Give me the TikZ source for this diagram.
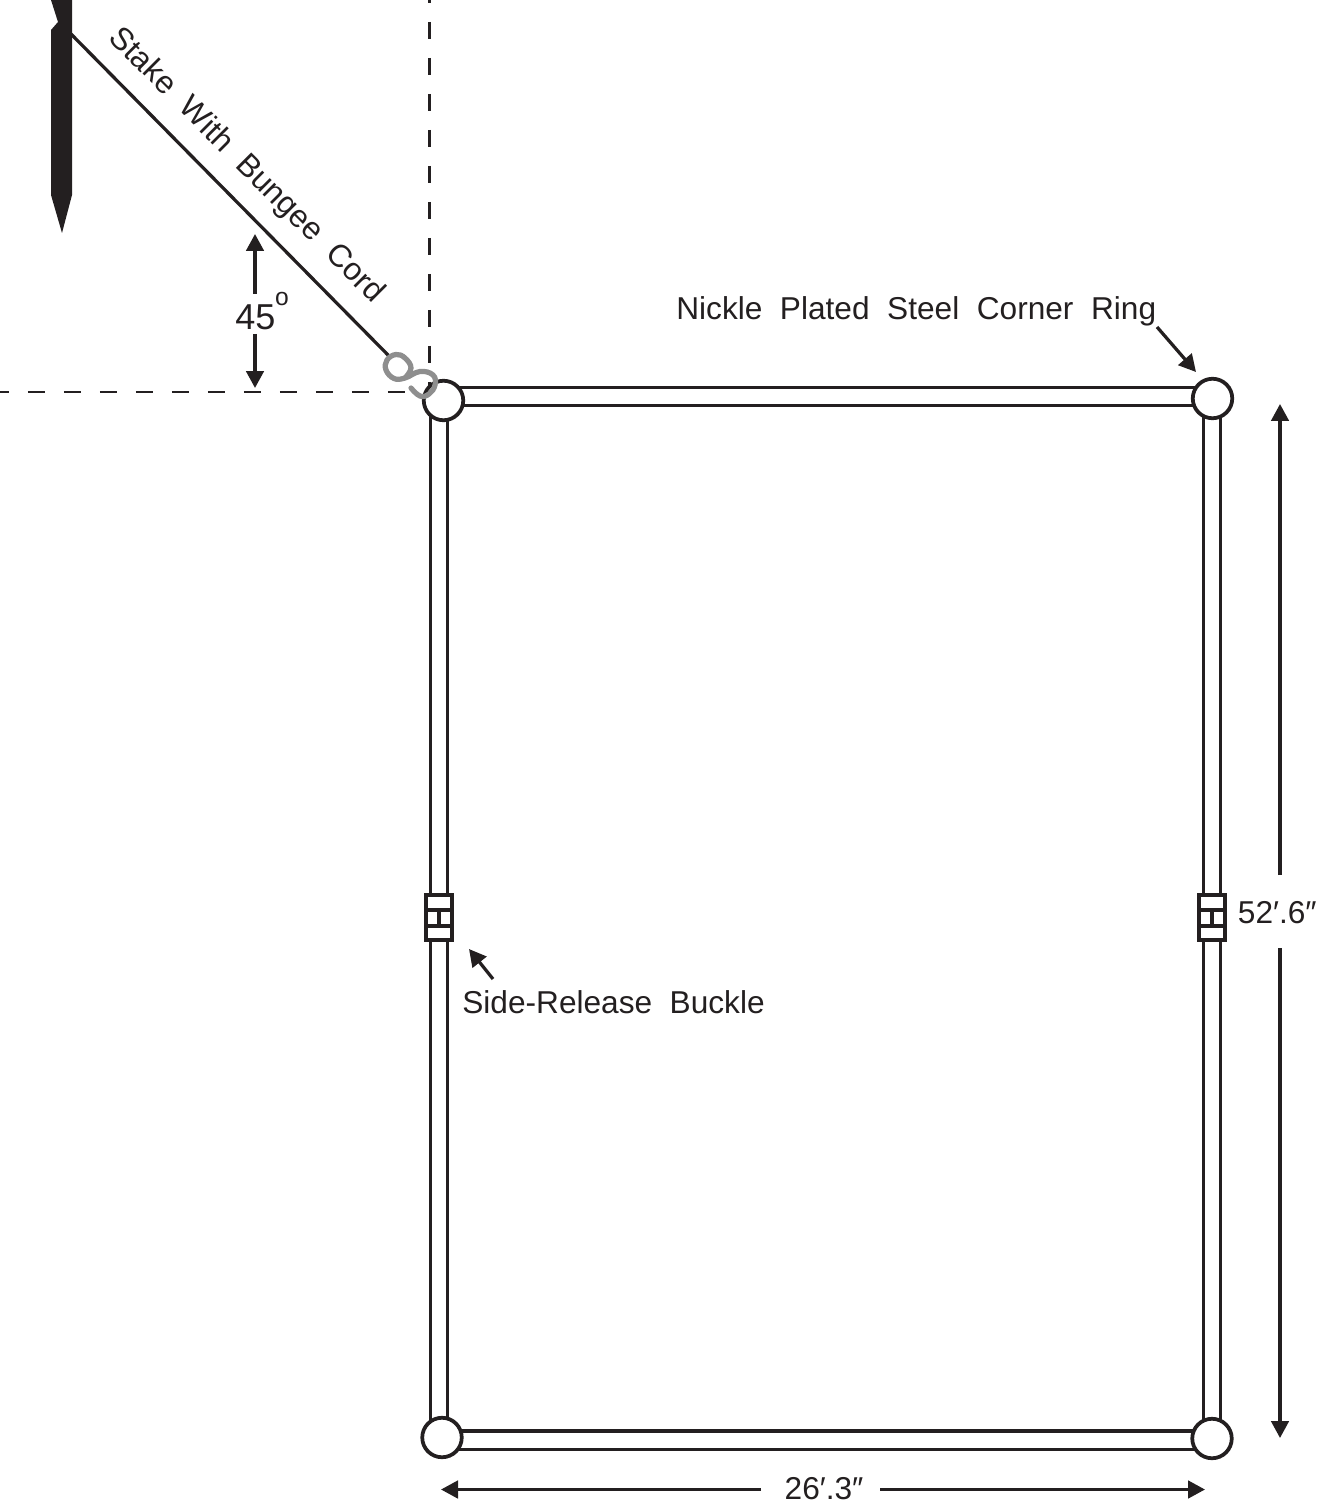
\documentclass[tikz,border=0pt]{standalone}
\usepackage{fontspec}
\setmainfont{Liberation Sans}
\usetikzlibrary{arrows.meta,backgrounds,calc}
\definecolor{ink}{HTML}{231F20}
\definecolor{hookgray}{HTML}{8E8E8E}
\tikzset{
  ring/.style={circle,draw=ink,fill=white,line width=.075cm,inner sep=0pt,minimum size=.79cm},
  buckle/.style={rectangle,draw=ink,fill=white,line width=.08cm,inner sep=0pt,minimum width=.53cm,minimum height=.91cm},
  hstrap/.style={draw=ink,line width=.068cm,double=white,double distance=.30cm},
  vstrap/.style={draw=ink,line width=.068cm,double=white,double distance=.265cm},
  guide/.style={draw=ink,line width=.055cm,dash pattern=on .34cm off .38cm},
  dimarrow/.style={draw=ink,line width=.065cm,-{Triangle[length=.34cm,width=.35cm]}},
  cord/.style={draw=ink,line width=.065cm},
  lbl/.style={inner sep=0pt,text=ink,font=\fontsize{18pt}{21pt}\selectfont},
}
\newcommand{\buckleparts}[1]{%
  \draw[ink,line width=.08cm] ($(#1)+(-14.8,-7.5)$) -- ($(#1)+(14.8,-7.5)$);
  \draw[ink,line width=.08cm] ($(#1)+(-14.8,8.5)$) -- ($(#1)+(14.8,8.5)$);
  \draw[ink,line width=.07cm] ($(#1)+(0,-7.5)$) -- ($(#1)+(0,8.5)$);
}
\begin{document}
\begin{tikzpicture}[x=.02cm,y=-.02cm]
\useasboundingbox (0,0) rectangle (1317,1500);
% rings
\node[ring] (tl) at (443.5,400.5) {};
\node[ring] (tr) at (1212.5,398.5) {};
\node[ring] (bl) at (442,1437.5) {};
\node[ring] (br) at (1212,1438.5) {};
% buckles
\node[buckle] (bkl) at (439,917.5) {};
\node[buckle] (bkr) at (1212,917.5) {};
\buckleparts{bkl}
\buckleparts{bkr}
% anchors
\coordinate (stakeeye) at (71,34);
\coordinate (hookeye) at (389,356);
\coordinate (topl) at (443,396.5);
\coordinate (topr) at (1212,396.5);
\coordinate (botl) at (442,1440);
\coordinate (botr) at (1212,1440);
\coordinate (vtop) at (429.5,0);
\coordinate (vbot) at (429.5,400);
\coordinate (hleft) at (0,392);
\coordinate (hright) at (440,392);
\begin{pgfonlayer}{background}
  \draw[hstrap] (topl) -- (topr);
  \draw[hstrap] (botl) -- (botr);
  \draw[vstrap] (bkl |- tl) -- (bkl);
  \draw[vstrap] (bkl) -- (bkl |- bl);
  \draw[vstrap] (bkr |- tr) -- (bkr);
  \draw[vstrap] (bkr) -- (bkr |- br);
  \draw[guide,dash phase=.28cm] (vtop) -- (vbot);
  \draw[guide,dash phase=.16cm] (hleft) -- (hright);
\end{pgfonlayer}
% stake
\fill[ink] (51,0) -- (58,22) -- (51,30) -- (51,195) -- (62,233) -- (72,195) -- (72,0) -- cycle;
\draw[cord] (stakeeye) -- (hookeye);
% S hook
\draw[hookgray,line width=.105cm,line cap=round] plot[smooth,tension=.7] coordinates
  {(405,378) (411,368) (405,358) (396,354.5) (387,360) (386,370) (394,378.5) (405,378) (420,371.5) (433,375) (435,385) (429,394) (420,396) (411,388)};
% labels
\node[lbl,anchor=base west] (ringlbl) at (676,319.5) {Nickle\ \ Plated\ \ Steel\ \ Corner\ \ Ring};
\node[lbl,anchor=west] (bucklbl) at (462,1002) {Side-Release\ \ Buckle};
\node[lbl,rotate=-45] (stakelbl) at (246,166) {Stake\ \ With\ \ Bungee\ \ Cord};
\node[lbl,font=\fontsize{20.5pt}{24pt}\selectfont,anchor=west] (angle) at (235,317) {45};
\node[lbl,font=\fontsize{14pt}{16pt}\selectfont] (deg) at (282,299) {o};
\node[lbl,anchor=east] (lenlbl) at (1317,913) {52′.6″};
\node[lbl,anchor=base] (widlbl) at (824,1499) {26′.3″};
% arrows
\coordinate (a1s) at (1157,327); \coordinate (a1e) at (1196,372);
\coordinate (a2s) at (493,979); \coordinate (a2e) at (469,949);
\draw[dimarrow] (a1s) -- (a1e);
\draw[dimarrow] (a2s) -- (a2e);
\coordinate (u1) at (255,294); \coordinate (u2) at (255,234);
\coordinate (d1) at (255,334); \coordinate (d2) at (255,388);
\draw[dimarrow] (u1) -- (u2);
\draw[dimarrow] (d1) -- (d2);
\coordinate (h1) at (1280,875); \coordinate (h2) at (1280,404);
\coordinate (h3) at (1280,948); \coordinate (h4) at (1280,1438);
\draw[dimarrow] (h1) -- (h2);
\draw[dimarrow] (h3) -- (h4);
\coordinate (w1) at (761,1489.5); \coordinate (w2) at (441,1489.5);
\coordinate (w3) at (880,1489.5); \coordinate (w4) at (1205,1489.5);
\draw[dimarrow] (w1) -- (w2);
\draw[dimarrow] (w3) -- (w4);
\end{tikzpicture}
\end{document}
